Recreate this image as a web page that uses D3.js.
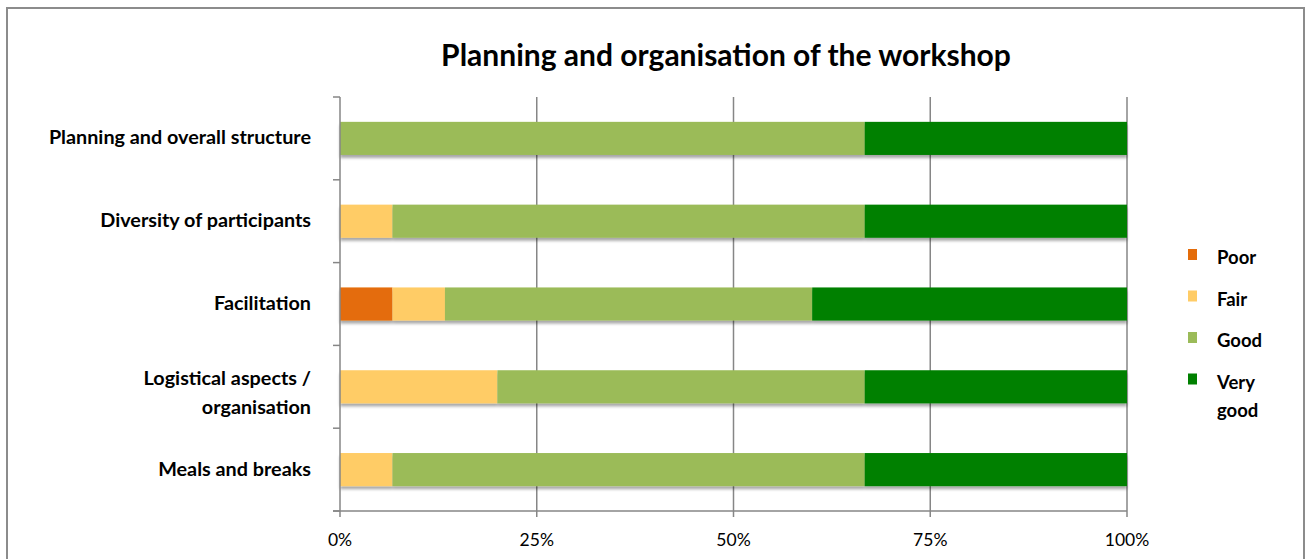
<!DOCTYPE html>
<html>
<head>
<meta charset="utf-8">
<script src="https://cdn.jsdelivr.net/npm/d3@7"></script>
<style>
  html, body { margin: 0; padding: 0; background: #fff; }
  svg { display: block; font-family: Lato, "Open Sans", sans-serif; }
</style>
</head>
<body>
<svg id="chart" width="1307" height="559"></svg>
<script>
// Survey responses per aspect (15 respondents)
const categories = [
  "Planning and overall structure",
  "Diversity of participants",
  "Facilitation",
  "Logistical aspects / organisation",
  "Meals and breaks"
];
const categoryLines = [
  ["Planning and overall structure"],
  ["Diversity of participants"],
  ["Facilitation"],
  ["Logistical aspects /", "organisation"],
  ["Meals and breaks"]
];
const seriesNames = ["Poor", "Fair", "Good", "Very good"];
const poor     = [0, 0, 1, 0, 0];
const fair     = [0, 1, 1, 3, 1];
const good     = [10, 9, 7, 7, 9];
const veryGood = [5, 5, 6, 5, 5];
const seriesColors = ["#E46C0A", "#FFCC66", "#9BBB59", "#008000"];
const tickValues = [0, 0.25, 0.5, 0.75, 1];
const tickLabels = ["0%", "25%", "50%", "75%", "100%"];
const title = "Planning and organisation of the workshop";

const rows = categories.map((c, i) => ({
  category: c,
  "Poor": poor[i], "Fair": fair[i], "Good": good[i], "Very good": veryGood[i]
}));

const svg = d3.select("#chart");
const plot = { left: 340, right: 1127, top: 97, bottom: 511 };
const axisColor = "#868686";

// Outer chart frame
svg.append("rect")
  .attr("x", 7).attr("y", 8)
  .attr("width", 1297).attr("height", 560)
  .attr("fill", "#fff")
  .attr("stroke", "#8c8c8c").attr("stroke-width", 2);

// Drop shadow under the bars
const defs = svg.append("defs");
const f = defs.append("filter").attr("id", "barShadow")
  .attr("x", "-5%").attr("y", "-20%").attr("width", "110%").attr("height", "160%");
f.append("feGaussianBlur").attr("in", "SourceAlpha").attr("stdDeviation", 1.8);
f.append("feOffset").attr("dx", 0).attr("dy", 3).attr("result", "ob");
f.append("feComponentTransfer").append("feFuncA").attr("type", "linear").attr("slope", 0.35);
const m = f.append("feMerge");
m.append("feMergeNode");
m.append("feMergeNode").attr("in", "SourceGraphic");

svg.append("text")
  .attr("x", 726).attr("y", 66)
  .attr("text-anchor", "middle")
  .attr("font-size", 30).attr("font-weight", "bold")
  .attr("fill", "#000")
  .text(title);

const x = d3.scaleLinear().domain([0, 1]).range([plot.left, plot.right]);
const y = d3.scaleBand().domain(categories)
  .range([plot.top, plot.bottom]).paddingInner(0.6).paddingOuter(0.3);
const yTicks = d3.scaleBand().domain(categories).range([plot.top, plot.bottom]);

// Vertical gridlines
svg.append("g").selectAll("line")
  .data(tickValues.slice(1))
  .join("line")
  .attr("x1", d => x(d)).attr("x2", d => x(d))
  .attr("y1", plot.top).attr("y2", plot.bottom)
  .attr("stroke", axisColor).attr("stroke-width", 1.5);

// Stacked bars, normalised to 100%
const stack = d3.stack().keys(seriesNames).offset(d3.stackOffsetExpand);
const layers = stack(rows);

svg.append("g").attr("filter", "url(#barShadow)")
  .selectAll("g")
  .data(layers)
  .join("g")
  .attr("fill", (d, i) => seriesColors[i])
  .selectAll("rect")
  .data(d => d)
  .join("rect")
  .attr("x", d => x(d[0]))
  .attr("width", d => x(d[1]) - x(d[0]))
  .attr("y", d => y(d.data.category))
  .attr("height", y.bandwidth());

// Left axis with tick marks at band edges
const bounds = categories.map(c => yTicks(c)).concat([plot.bottom]);
const left = svg.append("g");
left.append("line")
  .attr("x1", plot.left).attr("x2", plot.left)
  .attr("y1", plot.top).attr("y2", plot.bottom)
  .attr("stroke", axisColor).attr("stroke-width", 1.5);
left.selectAll("line.tick")
  .data(bounds)
  .join("line").attr("class", "tick")
  .attr("x1", plot.left - 7).attr("x2", plot.left)
  .attr("y1", d => d).attr("y2", d => d)
  .attr("stroke", axisColor).attr("stroke-width", 1.5);

// Category labels (wrapped labels sit slightly below the band centre)
const labels = svg.append("g")
  .attr("font-size", 19.8).attr("font-weight", "bold").attr("fill", "#000");
categories.forEach((c, i) => {
  const lines = categoryLines[i];
  const cy = yTicks(c) + yTicks.bandwidth() / 2;
  const lh = 29;
  const shift = lines.length > 1 ? 13 : 6;
  lines.forEach((ln, j) => {
    labels.append("text")
      .attr("x", 311)
      .attr("y", cy + shift + (j - (lines.length - 1) / 2) * lh)
      .attr("text-anchor", "end")
      .text(ln);
  });
});

// Bottom axis
const bottom = svg.append("g");
bottom.append("line")
  .attr("x1", plot.left - 7).attr("x2", plot.right)
  .attr("y1", plot.bottom).attr("y2", plot.bottom)
  .attr("stroke", axisColor).attr("stroke-width", 1.5);
bottom.selectAll("line.tick")
  .data(tickValues)
  .join("line").attr("class", "tick")
  .attr("x1", d => x(d)).attr("x2", d => x(d))
  .attr("y1", plot.bottom).attr("y2", plot.bottom + 6)
  .attr("stroke", axisColor).attr("stroke-width", 1.5);
bottom.selectAll("text")
  .data(tickValues)
  .join("text")
  .attr("x", d => x(d)).attr("y", 546)
  .attr("text-anchor", "middle")
  .attr("font-size", 17.5).attr("fill", "#000")
  .text((d, i) => tickLabels[i]);

// Legend
const legendLines = [["Poor"], ["Fair"], ["Good"], ["Very", "good"]];
const legend = svg.append("g");
seriesNames.forEach((s, i) => {
  const base = 264 + i * 41.5;
  legend.append("rect")
    .attr("x", 1188).attr("y", base - 15)
    .attr("width", 9).attr("height", 11)
    .attr("fill", seriesColors[i]);
  legendLines[i].forEach((ln, j) => {
    legend.append("text")
      .attr("x", 1217).attr("y", base + j * 28)
      .attr("font-size", 18.5).attr("font-weight", "bold").attr("fill", "#000")
      .text(ln);
  });
});
</script>
</body>
</html>
